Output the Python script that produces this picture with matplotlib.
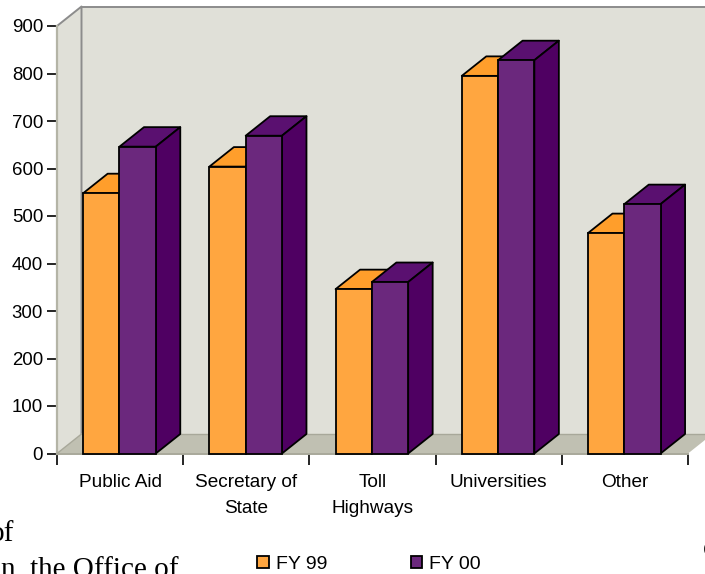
import numpy as np
import matplotlib
matplotlib.use("Agg")
import matplotlib.pyplot as plt
from matplotlib.patches import Polygon

plt.rcParams['font.family'] = ['Liberation Sans', 'DejaVu Sans']

# Values
categories = ["Public Aid", "Secretary of\nState", "Toll\nHighways", "Universities", "Other"]
fy99 = [548, 604, 346, 795, 464]
fy00 = [646, 669, 361, 828, 525]
y_ticks = [0, 100, 200, 300, 400, 500, 600, 700, 800, 900]

orange = dict(front='#FFA640', top='#FF9E2B', side='#E08A20')
purple = dict(front='#6B287D', top='#5A1070', side='#4F0062')

W, H = 705, 574
fig = plt.figure(figsize=(W / 100, H / 100), dpi=100)
ax = fig.add_axes([57 / W, (H - 453.5) / H, 631 / W, 427.5 / H])
ax.set_xlim(0, 5)
ax.set_ylim(0, 900)

# 3D depth in data units (24px to the right, 19px up)
dx = 24.5 / (631 / 5)
dy = 19.5 / (427.5 / 900)
bar_w = 36.3 / (631 / 5)


def poly(pts, fc, ec='none', lw=0, z=1):
    ax.add_patch(Polygon(pts, closed=True, fc=fc, ec=ec, lw=lw, zorder=z, clip_on=False, joinstyle='round'))


# walls and floor
poly([(dx, dy), (5.3, dy), (5.3, 900 + dy), (dx, 900 + dy)], '#E0E0D8')
poly([(0, 0), (0, 900), (dx, 900 + dy), (dx, dy)], '#E0E0D8')
poly([(0, 0), (5, 0), (5 + dx, dy), (dx, dy)], '#C0C0B2')
ax.plot([0, dx, dx], [900, 900 + dy, dy], color='#8C8C8C', lw=1.4, zorder=2, clip_on=False)
ax.plot([dx, 5.3], [900 + dy, 900 + dy], color='#8C8C8C', lw=1.4, zorder=2, clip_on=False)
ax.plot([0, 0], [0, 900], color='#B4B4A6', lw=1.6, zorder=2, clip_on=False)
ax.plot([0, 5], [0, 0], color='#A8A89A', lw=1.4, zorder=2, clip_on=False)
ax.plot([0, dx], [0, dy], color='#A8A89A', lw=1.0, zorder=2, clip_on=False)
ax.plot([dx, 5.3], [dy, dy], color='#A8A89A', lw=1.0, zorder=2, clip_on=False)


def draw_bar(x, v, c, z):
    r = x + bar_w
    poly([(x, v), (r, v), (r + dx, v + dy), (x + dx, v + dy)], c['top'], 'black', 1.3, z)
    poly([(r, 0), (r + dx, dy), (r + dx, v + dy), (r, v)], c['side'], 'black', 1.3, z)
    return ax.bar(x, v, width=bar_w, align='edge', color=c['front'], edgecolor='black',
                  linewidth=1.3, zorder=z + 0.5, clip_on=False)


x = np.arange(len(categories))
start = (1 - 2 * bar_w) / 2 - 0.005
for i in x:
    b1 = draw_bar(i + start, fy99[i], orange, 3 + i)
    b2 = draw_bar(i + start + bar_w, fy00[i], purple, 3.7 + i)

for s in ax.spines.values():
    s.set_visible(False)

ax.set_yticks(y_ticks)
ax.set_xticks(np.arange(6))
ax.set_xticklabels([])
ax.set_xticks(x + 0.5, categories, minor=True)
ax.tick_params(axis='y', length=7, width=1.2, labelsize=13.4, pad=3, color='black')
ax.tick_params(axis='x', which='major', length=8, width=1.2, color='black')
ax.tick_params(axis='x', which='minor', length=0, labelsize=13.7, pad=15)
for lab in ax.get_xticklabels(minor=True):
    lab.set_linespacing(1.65)

ax.legend([b1, b2], ["FY 99", "FY 00"], ncol=2, frameon=False, fontsize=14,
          loc='center left', bbox_to_anchor=(257 / W, (H - 564.5) / H), bbox_transform=fig.transFigure,
          handlelength=0.6, handleheight=0.6, handletextpad=0.36, columnspacing=4.3,
          borderpad=0, borderaxespad=0)

# scraps of the page text around the chart
serif = ['Liberation Serif', 'DejaVu Serif']
fig.text(-10 / W, (H - 541) / H, "of", family=serif, fontsize=21, color='black')
fig.text(1 / W, (H - 577) / H, "n, the Office of", family=serif, fontsize=21, color='black')
fig.text(703 / W, (H - 556) / H, "c", family=serif, fontsize=21, color='black')

fig.savefig("out.png", dpi=100)
